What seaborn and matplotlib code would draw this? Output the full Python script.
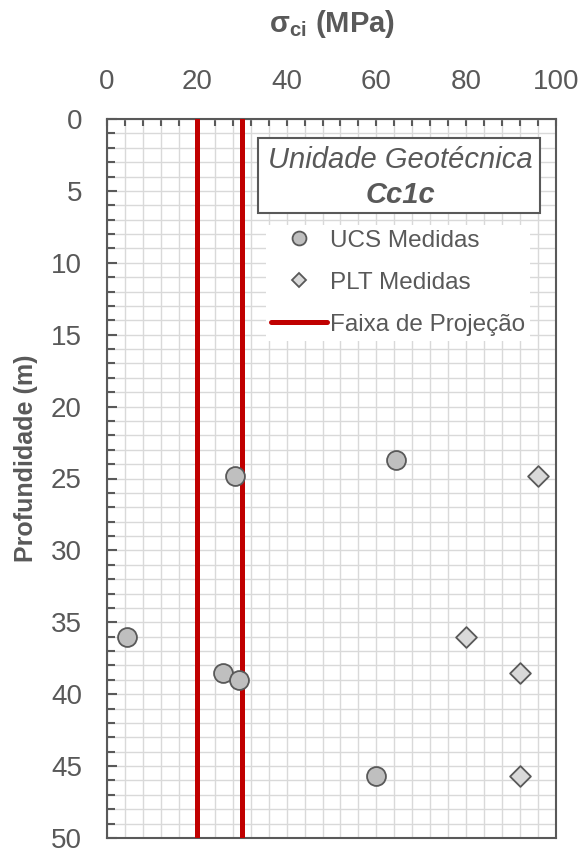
import matplotlib
matplotlib.use("Agg")
import matplotlib.pyplot as plt
import seaborn as sns
import pandas as pd
from matplotlib.lines import Line2D
from matplotlib.patches import Rectangle
from matplotlib.ticker import MultipleLocator

# ---- data ----
ucs_sigma = [28.6, 64.4, 4.4, 25.8, 29.5, 59.8]
ucs_depth = [24.8, 23.7, 36.0, 38.5, 39.0, 45.7]
plt_sigma = [95.9, 80.0, 91.9, 91.9]
plt_depth = [24.8, 36.0, 38.5, 45.7]
faixa = [20, 30]
x_ticks = [0, 20, 40, 60, 80, 100]
y_ticks = [0, 5, 10, 15, 20, 25, 30, 35, 40, 45, 50]

GRAY = "#595959"
RED = "#c00000"

sns.set_theme(style="white")
plt.rcParams["font.family"] = ["Liberation Sans", "DejaVu Sans"]
plt.rcParams["mathtext.fontset"] = "custom"
plt.rcParams["mathtext.rm"] = "Liberation Sans"
plt.rcParams["mathtext.bf"] = "Liberation Sans:bold"
plt.rcParams["mathtext.it"] = "Liberation Sans:italic"

fig = plt.figure(figsize=(5.81, 8.48), dpi=100)
ax = fig.add_axes([107/581, 10/848, 449/581, 719/848])

ucs_df = pd.DataFrame({"sigma": ucs_sigma, "depth": ucs_depth})
plt_df = pd.DataFrame({"sigma": plt_sigma, "depth": plt_depth})

for v in faixa:
    ax.axvline(v, color=RED, lw=3.6, zorder=3)

sns.scatterplot(data=ucs_df, x="sigma", y="depth", ax=ax, marker="o", s=185,
                color="#bfbfbf", edgecolor=GRAY, linewidth=1.3, zorder=5)
sns.scatterplot(data=plt_df, x="sigma", y="depth", ax=ax, marker="D", s=112,
                color="#d9d9d9", edgecolor=GRAY, linewidth=1.3, zorder=5)

ax.set_xlim(0, 100)
ax.set_ylim(50, 0)
ax.xaxis.tick_top()
ax.set_xticks(x_ticks)
ax.set_yticks(y_ticks)
ax.xaxis.set_minor_locator(MultipleLocator(4))
ax.yaxis.set_minor_locator(MultipleLocator(1))
ax.grid(which="both", color="#d9d9d9", lw=1.0, zorder=0)
ax.set_axisbelow(True)
ax.tick_params(axis="x", which="both", direction="in", top=True, bottom=False,
               labeltop=True, labelbottom=False, color=GRAY, width=1.5)
ax.tick_params(axis="x", which="major", length=5, pad=17, labelsize=20, labelcolor=GRAY)
ax.tick_params(axis="x", which="minor", length=5)
ax.tick_params(axis="y", which="both", direction="in", left=True, right=False,
               color=GRAY, width=1.5)
ax.tick_params(axis="y", which="major", length=7, pad=18, labelsize=20, labelcolor=GRAY)
ax.tick_params(axis="y", which="minor", length=6)
for s in ax.spines.values():
    s.set_color(GRAY)
    s.set_linewidth(1.5)
ax.set_xlabel("")
ax.set_ylabel("")

fig.text(332/581, 1 - 24/848, r"$\mathbf{\sigma_{ci}}$ (MPa)", ha="center", va="center",
         fontsize=21, fontweight="bold", color=GRAY)
fig.text(26/581, 1 - 458/848, "Profundidade (m)", rotation=90, ha="center", va="center",
         fontsize=18, fontweight="bold", color=GRAY)

# title box
x0 = (258 - 107) / 449
x1 = (540 - 107) / 449
y1 = 1 - (138 - 119) / 719
y0 = 1 - (213 - 119) / 719
ax.add_patch(Rectangle((x0, y0), x1 - x0, y1 - y0, transform=ax.transAxes,
                       facecolor="white", edgecolor=GRAY, lw=1.5, zorder=6))
xc = (400 - 107) / 449
ax.text(xc, 1 - (160 - 119) / 719, "Unidade Geotécnica", transform=ax.transAxes,
        ha="center", va="center", fontsize=21, style="italic", color=GRAY, zorder=7)
ax.text(xc, 1 - (195 - 119) / 719, "Cc1c", transform=ax.transAxes,
        ha="center", va="center", fontsize=21, style="italic", fontweight="bold",
        color=GRAY, zorder=7)

handles = [
    Line2D([], [], ls="none", marker="o", ms=10, mfc="#bfbfbf", mec=GRAY, mew=1.3),
    Line2D([], [], ls="none", marker="D", ms=7.5, mfc="#d9d9d9", mec=GRAY, mew=1.3),
    Line2D([], [], color=RED, lw=3.6),
]
labels = ["UCS Medidas", "PLT Medidas", "Faixa de Projeção"]
leg = ax.legend(handles, labels, loc="upper left",
                bbox_to_anchor=((266 - 107) / 449, 1 - (225 - 119) / 719),
                frameon=True, facecolor="white", edgecolor="none", framealpha=1,
                fontsize=17.5, labelcolor=GRAY, handlelength=2.3, handletextpad=0.15,
                labelspacing=0.82, borderpad=0.2, borderaxespad=0, fancybox=False)
leg.set_zorder(7)

fig.savefig("out.png", dpi=100)
